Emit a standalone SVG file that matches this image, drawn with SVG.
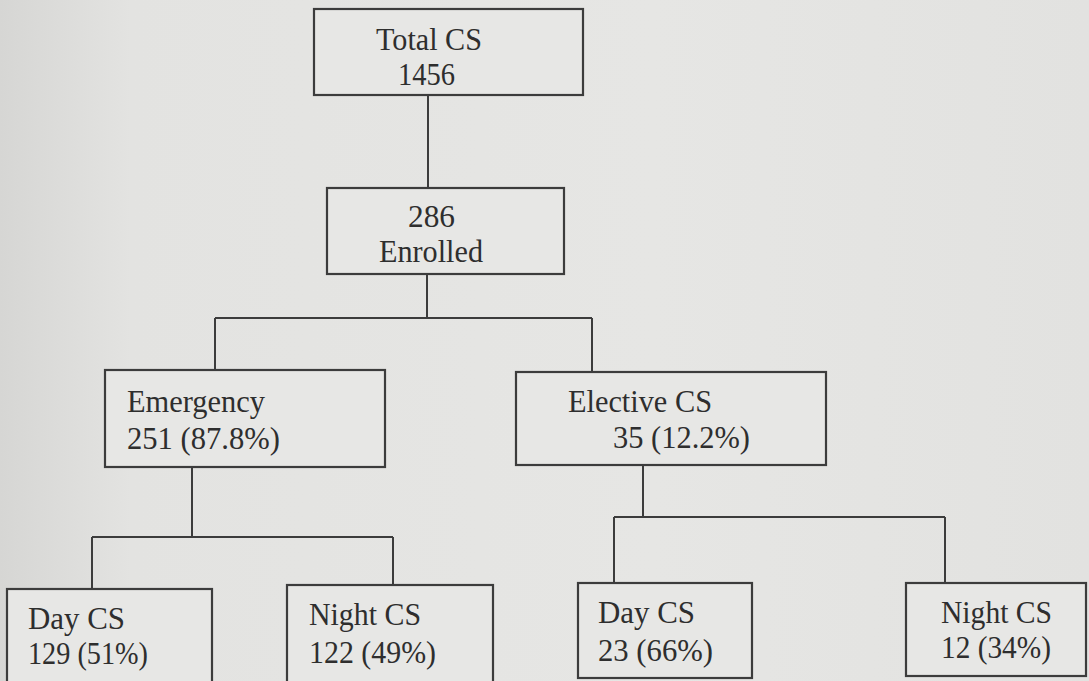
<svg xmlns="http://www.w3.org/2000/svg" width="1089" height="681" viewBox="0 0 1089 681">
<defs>
<linearGradient id="bg" x1="0" y1="0" x2="1" y2="0">
<stop offset="0" stop-color="#d6d6d4"/>
<stop offset="0.12" stop-color="#e3e3e1"/>
<stop offset="0.6" stop-color="#e6e6e4"/>
<stop offset="1" stop-color="#e2e2e0"/>
</linearGradient>
<style>
.box{fill:#e7e7e5;stroke:#3c3c3c;stroke-width:2.2}
.t{font-family:"Liberation Serif","Times New Roman",serif;font-size:32px;fill:#2e2e2e}
.c{text-anchor:middle}
.ln{fill:none;stroke:#3c3c3c;stroke-width:2}
</style>
</defs>
<rect width="1089" height="681" fill="url(#bg)"/>
<g id="connectors">
<path class="ln" d="M428 95V188"/>
<path class="ln" d="M427 274V318"/>
<path class="ln" d="M215 318H592M215 318V370M592 318V372"/>
<path class="ln" d="M192 467V537"/>
<path class="ln" d="M92 537H393M92 537V589M393 537V585"/>
<path class="ln" d="M643 465V517"/>
<path class="ln" d="M614 517H945M614 517V583M945 517V583"/>
</g>
<g id="total">
<rect class="box" x="314" y="9" width="269" height="86"/>
<text class="t" x="376" y="50" textLength="106" lengthAdjust="spacingAndGlyphs">Total CS</text>
<text class="t" x="398" y="85" textLength="57" lengthAdjust="spacingAndGlyphs">1456</text>
</g>
<g id="enrolled">
<rect class="box" x="327" y="188" width="237" height="86"/>
<text class="t" x="408" y="227" textLength="47" lengthAdjust="spacingAndGlyphs">286</text>
<text class="t" x="379" y="262" textLength="104" lengthAdjust="spacingAndGlyphs">Enrolled</text>
</g>
<g id="emergency">
<rect class="box" x="105" y="370" width="280" height="97"/>
<text class="t" x="127" y="412" textLength="138" lengthAdjust="spacingAndGlyphs">Emergency</text>
<text class="t" x="127" y="449" textLength="153" lengthAdjust="spacingAndGlyphs">251 (87.8%)</text>
</g>
<g id="elective">
<rect class="box" x="516" y="372" width="310" height="93"/>
<text class="t" x="568" y="412" textLength="144" lengthAdjust="spacingAndGlyphs">Elective CS</text>
<text class="t" x="613" y="448" textLength="137" lengthAdjust="spacingAndGlyphs">35 (12.2%)</text>
</g>
<g id="em-day">
<rect class="box" x="7" y="589" width="205" height="100"/>
<text class="t" x="28" y="629" textLength="97" lengthAdjust="spacingAndGlyphs">Day CS</text>
<text class="t" x="28" y="664" textLength="120" lengthAdjust="spacingAndGlyphs">129 (51%)</text>
</g>
<g id="em-night">
<rect class="box" x="287" y="585" width="206" height="104"/>
<text class="t" x="309" y="625" textLength="112" lengthAdjust="spacingAndGlyphs">Night CS</text>
<text class="t" x="309" y="663" textLength="127" lengthAdjust="spacingAndGlyphs">122 (49%)</text>
</g>
<g id="el-day">
<rect class="box" x="578" y="583" width="174" height="95"/>
<text class="t" x="598" y="623" textLength="97" lengthAdjust="spacingAndGlyphs">Day CS</text>
<text class="t" x="598" y="661" textLength="115" lengthAdjust="spacingAndGlyphs">23 (66%)</text>
</g>
<g id="el-night">
<rect class="box" x="906" y="583" width="180" height="93"/>
<text class="t" x="941" y="623" textLength="111" lengthAdjust="spacingAndGlyphs">Night CS</text>
<text class="t" x="941" y="658" textLength="110" lengthAdjust="spacingAndGlyphs">12 (34%)</text>
</g>
</svg>
